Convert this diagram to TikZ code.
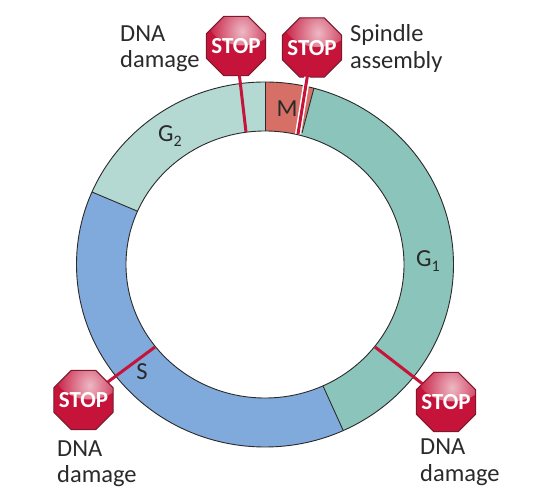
\documentclass[tikz,border=0pt]{standalone}
\usepackage{fontspec}
\setmainfont{Carlito}
\usetikzlibrary{shapes.geometric}
\definecolor{stopred}{HTML}{C5133A}
\definecolor{stopedge}{HTML}{7A1A2C}
\definecolor{gone}{HTML}{8BC4BA}
\definecolor{gtwo}{HTML}{B3D9D2}
\definecolor{sphase}{HTML}{80A9DC}
\definecolor{mphase}{HTML}{D66F65}
\definecolor{inkc}{HTML}{2A2A2A}
\tikzset{
  stopsign/.style={regular polygon,regular polygon sides=8,minimum size=64pt,inner sep=0pt,outer sep=0pt,
    draw=stopedge,line width=1pt,fill=stopred,
    path picture={
      \shade[inner color=stopred!30!white,outer color=stopred]
        ([xshift=6pt]path picture bounding box.north) ellipse [x radius=36pt,y radius=29pt];
    }},
  stopword/.style={text=white,inner sep=0pt,font=\fontsize{23}{23}\selectfont\bfseries,anchor=base},
  redline/.style={draw=stopred,line width=3pt},
  halo/.style={draw=white,line width=6pt},
  label/.style={font=\fontsize{24.5}{24.5}\selectfont,text=inkc,anchor=base west,inner sep=0pt},
  phase/.style={font=\fontsize{24.5}{24.5}\selectfont,text=inkc,inner sep=0pt},
  rim/.style={draw=inkc,line width=0.9pt}
}
\newcommand{\subs}[1]{\raisebox{-5pt}{\fontsize{16}{16}\selectfont #1}}
\begin{document}
\begin{tikzpicture}[x=1pt,y=-1pt]
\useasboundingbox (0,0) rectangle (542,502);
\coordinate (c) at (265,264.5);
% ring sectors
\begin{scope}
  \clip (c) ellipse [x radius=188.5pt,y radius=182.5pt];
  \fill[mphase] (c) -- (265,-300) -- (412,-265) -- cycle;
  \fill[gone] (c) -- (412,-265) -- (1000,-265) -- (1000,1000) -- (499,761) -- cycle;
  \fill[sphase] (c) -- (499,761) -- (-300,1000) -- (-300,47) -- (-254,47) -- cycle;
  \fill[gtwo] (c) -- (-254,47) -- (-254,-300) -- (265,-300) -- cycle;
\end{scope}
\fill[white] (c) ellipse [x radius=139pt,y radius=133.5pt];
\draw[rim] (265,82) -- (265,131);
\draw[rim] (92,192) -- (137,211);
\draw[rim] (343,430) -- (323,386);
\draw[rim] (314,88) -- (302,133);
\draw[rim] (c) ellipse [x radius=188.5pt,y radius=182.5pt];
\draw[rim] (c) ellipse [x radius=139pt,y radius=133.5pt];
% stop signs
\coordinate (ca) at (236,46);
\coordinate (cb) at (312,47.5);
\coordinate (cc) at (83.5,400);
\coordinate (cd) at (446,402);
\node[stopsign] (stopa) at (ca) {};
\node[stopsign] (stopb) at (cb) {};
\node[stopsign] (stopc) at (cc) {};
\node[stopsign] (stopd) at (cd) {};
\node[stopword] (wa) at ([yshift=-8pt]ca) {STOP};
\node[stopword] (wb) at ([yshift=-8pt]cb) {STOP};
\node[stopword] (wc) at ([yshift=-8pt]cc) {STOP};
\node[stopword] (wd) at ([yshift=-8pt]cd) {STOP};
\coordinate (enda) at (246,132);
\coordinate (endb) at (298,134);
\coordinate (endc) at (155,347);
\coordinate (endd) at (375,347);
\draw[redline] (stopa) -- (enda);
\draw[halo] (stopb) -- (endb);
\draw[redline] (stopb) -- (endb);
\draw[redline] (stopc) -- (endc);
\draw[redline] (stopd) -- (endd);
% labels
\node[phase] (m) at (287,109) {M};
\node[phase] (s) at (142,372) {S};
\node[label] (gtwolabel) at (158,142) {G\subs{2}};
\node[label] (gonelabel) at (416,267) {G\subs{1}};
\node[label] (ta1) at (120,42) {DNA};
\node[label] (ta2) at (120,68) {damage};
\node[label] (tb1) at (350,42) {Spindle};
\node[label] (tb2) at (350,69) {assembly};
\node[label] (tc1) at (57,457) {DNA};
\node[label] (tc2) at (57,483) {damage};
\node[label] (td1) at (420,455) {DNA};
\node[label] (td2) at (420,482) {damage};
\end{tikzpicture}
\end{document}
